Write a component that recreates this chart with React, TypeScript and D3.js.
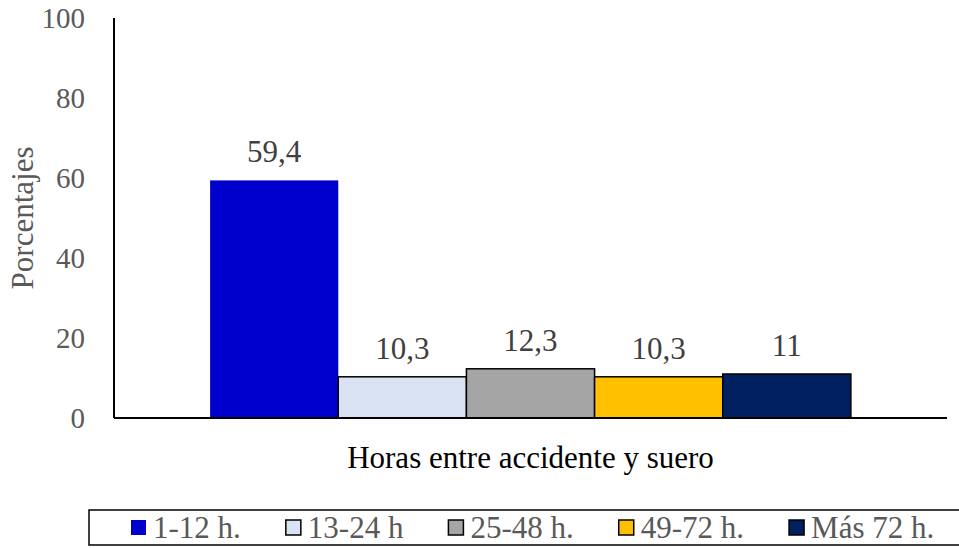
import React, { useEffect, useRef } from "react";
import * as d3 from "d3";

const categories = ["Horas entre accidente y suero"];
const seriesNames = ["1-12 h.", "13-24 h", "25-48 h.", "49-72 h.", "Más 72 h."];
const seriesValues = [59.4, 10.3, 12.3, 10.3, 11];
const valueLabels = ["59,4", "10,3", "12,3", "10,3", "11"];
const seriesColors = ["#0000CC", "#DAE3F3", "#A5A5A5", "#FFC000", "#002060"];
const seriesStrokes = ["none", "#000000", "#000000", "#000000", "#000000"];
const yTicks = [0, 20, 40, 60, 80, 100];
const yTitle = "Porcentajes";
const xTitle = "Horas entre accidente y suero";

const W = 959;
const H = 548;
const FONT = "Liberation Serif, Times New Roman, Tinos, DejaVu Serif, serif";

export default function App() {
  const ref = useRef<SVGSVGElement>(null);

  useEffect(() => {
    const svg = d3.select(ref.current);
    svg.selectAll("*").remove();

    const left = 114, right = 947, top = 18, bottom = 418;
    const y = d3.scaleLinear().domain([0, 100]).range([bottom, top]);
    const x0 = d3.scaleBand<string>().domain(categories).range([left, right]).paddingInner(0).paddingOuter(0.15);
    const x1 = d3.scaleBand<string>().domain(seriesNames).range([0, x0.bandwidth()]).padding(0);

    // Y tick labels
    svg.append("g").selectAll("text").data(yTicks).join("text")
      .attr("x", 85).attr("y", d => y(d)).attr("dy", "0.35em")
      .attr("text-anchor", "end").style("font-family", FONT).attr("font-size", 29)
      .attr("fill", "#595959").text(d => String(d));

    // bars
    const g = svg.append("g").attr("transform", `translate(${x0(categories[0])},0)`);
    g.selectAll("rect").data(seriesValues).join("rect")
      .attr("x", (_, i) => x1(seriesNames[i])!)
      .attr("y", d => y(d))
      .attr("width", x1.bandwidth())
      .attr("height", d => y(0) - y(d))
      .attr("fill", (_, i) => seriesColors[i])
      .attr("stroke", (_, i) => seriesStrokes[i])
      .attr("stroke-width", 1.5);

    g.selectAll("text.lbl").data(seriesValues).join("text").attr("class", "lbl")
      .attr("x", (_, i) => x1(seriesNames[i])! + x1.bandwidth() / 2)
      .attr("y", d => y(d) - 18)
      .attr("text-anchor", "middle").style("font-family", FONT).attr("font-size", 31)
      .attr("fill", "#404040").text((_, i) => valueLabels[i]);

    // axes lines
    svg.append("line").attr("x1", left).attr("x2", left).attr("y1", top).attr("y2", bottom)
      .attr("stroke", "#000").attr("stroke-width", 2);
    svg.append("line").attr("x1", left).attr("x2", right).attr("y1", bottom).attr("y2", bottom)
      .attr("stroke", "#000").attr("stroke-width", 2);

    // titles
    svg.append("text").attr("x", (left + right) / 2).attr("y", 468)
      .attr("text-anchor", "middle").style("font-family", FONT).attr("font-size", 31)
      .attr("fill", "#000").text(xTitle);
    svg.append("text").attr("transform", `translate(33,${(top + bottom) / 2}) rotate(-90)`)
      .attr("text-anchor", "middle").style("font-family", FONT).attr("font-size", 31)
      .attr("fill", "#595959").text(yTitle);

    // legend
    const legY = 510, legH = 35;
    svg.append("rect").attr("x", 89).attr("y", legY).attr("width", W).attr("height", legH)
      .attr("fill", "none").attr("stroke", "#000").attr("stroke-width", 1.5);
    let cx = 131;
    const ms = 15;
    seriesNames.forEach((name, i) => {
      svg.append("rect").attr("x", cx).attr("y", legY + legH / 2 - ms / 2)
        .attr("width", ms).attr("height", ms)
        .attr("fill", seriesColors[i]).attr("stroke", seriesStrokes[i]).attr("stroke-width", 1.5);
      const t = svg.append("text").attr("x", cx + ms + 7).attr("y", legY + legH / 2).attr("dy", "0.35em")
        .style("font-family", FONT).attr("font-size", 31).attr("fill", "#595959").text(name);
      const w = (t.node() as SVGTextElement).getComputedTextLength();
      cx = cx + ms + 7 + w + 45;
    });
  }, []);

  return (
    <svg ref={ref} width={W} height={H} style={{ position: "absolute", left: 0, top: 0, background: "#fff" }} />
  );
}
